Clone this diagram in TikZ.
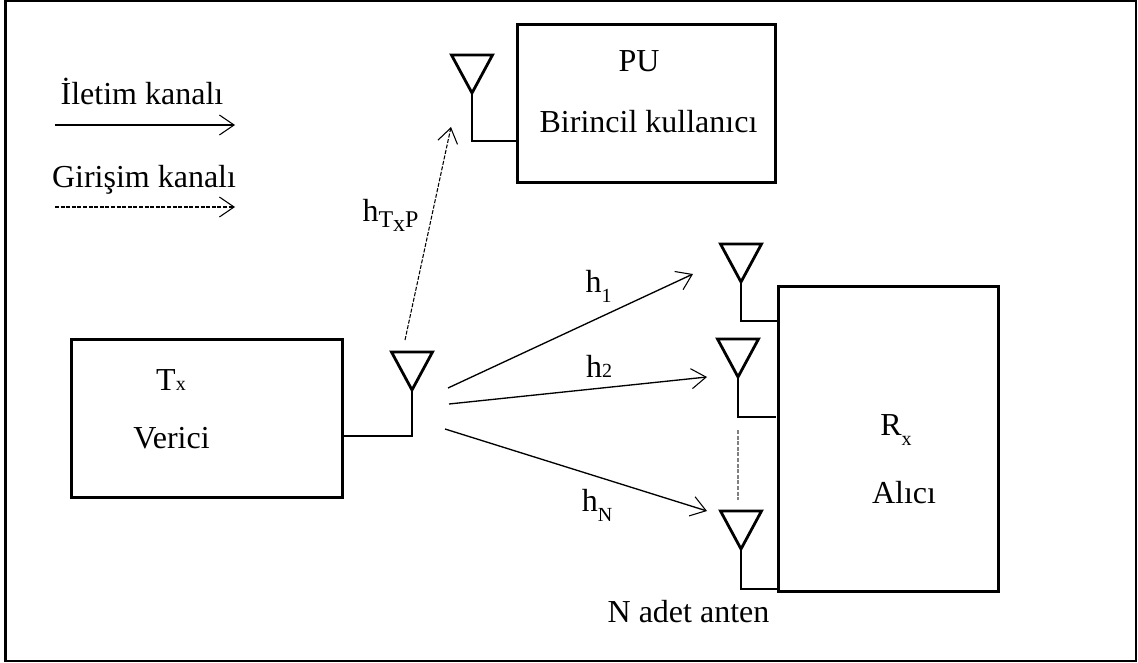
\documentclass[tikz,border=0pt]{standalone}
\usepackage{fontspec}
\setmainfont{Liberation Serif}
\usepackage{tikz}
\usetikzlibrary{arrows.meta,positioning}
\newcommand{\lowsub}[3][15pt]{\raisebox{-#2}{\fontsize{#1}{#1}\selectfont #3}}

\begin{document}
\begin{tikzpicture}[
    x=0.75pt, y=-0.75pt,
    font=\fontsize{24pt}{28pt}\selectfont,
    block/.style={draw, line width=2.1pt, minimum width=#1},
    antenna/.style={draw, line width=2.1pt, line join=miter},
    feed/.style={draw, line width=1pt},
    link/.style={line width=1pt, -{Straight Barb[length=11pt,width=15pt,line width=0.8pt]}},
    interference/.style={link, dash pattern=on 3pt off 1.2pt, line width=0.8pt},
    txt/.style={inner sep=0pt, anchor=base}
]
\useasboundingbox (0,0) rectangle (1138,663);
\draw[line width=1.6pt] (5.5,0.5) rectangle (1136,661);

% blocks
\node[block=193pt, minimum height=119pt] (pu) at (646.5,103.5) {};
\node[block=203pt, minimum height=119pt] (tx) at (207,418.5) {};
\node[block=165pt, minimum height=229pt] (rx) at (888.5,439) {};

% antennas, named by their apex
\foreach \name/\x/\y in {apu/472/93,atx/412/390,ar1/741/282,ar2/738/377,arn/741/549} {
    \coordinate (\name) at (\x,\y);
    \draw[antenna] (\name) -- ++(-20.5,-38) -- ++(41,0) -- cycle;
}

% feed lines
\coordinate (pufeed) at (518,141);
\coordinate (txfeed) at (342,436);
\coordinate (r1feed) at (779,321);
\coordinate (r2feed) at (776,417);
\coordinate (rnfeed) at (779,589);
\draw[feed] (apu) |- (pufeed);
\draw[feed] (atx) |- (txfeed);
\draw[feed] (ar1) |- (r1feed);
\draw[feed] (ar2) |- (r2feed);
\draw[feed] (arn) |- (rnfeed);
\coordinate (dotstop) at (738,430);
\coordinate (dotsbot) at (738,500);
\draw[gray, line width=1pt, dash pattern=on 3pt off 1.2pt] (dotstop) -- (dotsbot);

% legend
\coordinate (solidl) at (55,125);
\coordinate (solidr) at (235,125);
\coordinate (dashl) at (55,207);
\coordinate (dashr) at (235,207);
\draw[link] (solidl) -- (solidr);
\draw[interference] (dashl) -- (dashr);
\node[txt] (iletim) at (142,105) {İletim kanalı};
\node[txt] (girisim) at (144,187) {Girişim kanalı};

% channels
\coordinate (pustart) at (405,340);
\coordinate (puend) at (451,127);
\coordinate (h1start) at (448,388);
\coordinate (h1end) at (693,274);
\coordinate (h2start) at (449,404);
\coordinate (h2end) at (707,377);
\coordinate (hnstart) at (445,429);
\coordinate (hnend) at (707,511);
\draw[interference] (pustart) -- (puend);
\draw[link] (h1start) -- (h1end);
\draw[link] (h2start) -- (h2end);
\draw[link] (hnstart) -- (hnend);

% labels
\node[txt] (pulabel) at (639,72) {PU};
\node[txt] (pudesc) at (648.5,133) {Birincil kullanıcı};
\node[txt] (txlabel) at (171,390) {T\lowsub{0pt}{x}};
\node[txt] (txdesc) at (171.5,448) {Verici};
\node[txt] (rxlabel) at (896,435) {R\lowsub{7.5pt}{x}};
\node[txt] (rxdesc) at (904,503) {Alıcı};
\node[txt] (nadet) at (688.5,622) {N adet anten};
\node[txt] (htxp) at (390.5,221) {h\lowsub[18pt]{5pt}{T\raisebox{-3pt}{x}P}};
\node[txt] (hone) at (598.5,292) {h\lowsub{7.5pt}{1}};
\node[txt] (htwo) at (599,377) {h\lowsub{0pt}{2}};
\node[txt] (hnn) at (597,511) {h\lowsub{8pt}{N}};
\end{tikzpicture}
\end{document}
